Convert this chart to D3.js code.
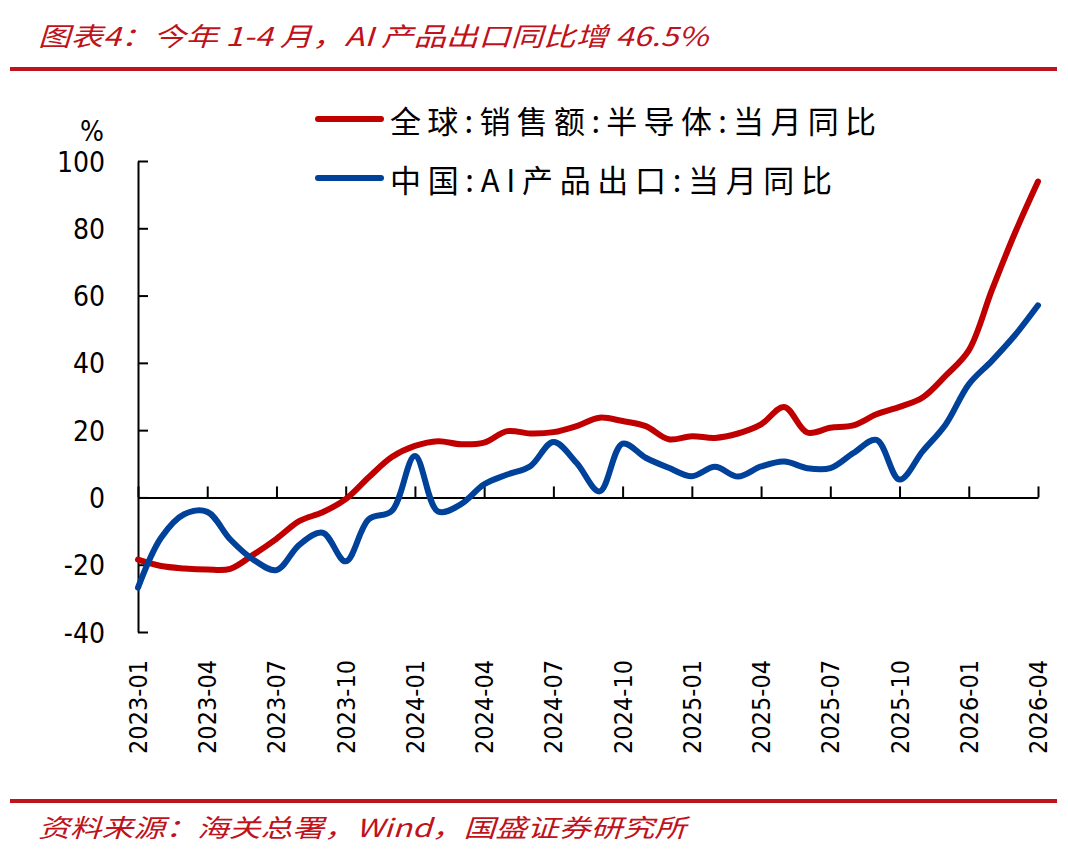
<!DOCTYPE html>
<html>
<head>
<meta charset="utf-8">
<script src="https://cdn.jsdelivr.net/npm/d3@7/dist/d3.min.js"></script>
<style>
  body { margin: 0; background: #fff; }
  svg { display: block; }
  .num { font-family: "DejaVu Sans Condensed", "DejaVu Sans", sans-serif; font-stretch: condensed; fill: #000; }
</style>
</head>
<body>
<div id="viz"></div>
<script>
// data
var months = ['2023-01','2023-02','2023-03','2023-04','2023-05','2023-06','2023-07','2023-08','2023-09','2023-10','2023-11','2023-12',
              '2024-01','2024-02','2024-03','2024-04','2024-05','2024-06','2024-07','2024-08','2024-09','2024-10','2024-11','2024-12',
              '2025-01','2025-02','2025-03','2025-04','2025-05','2025-06','2025-07','2025-08','2025-09','2025-10','2025-11','2025-12',
              '2026-01','2026-02','2026-03','2026-04'];
var semi = [-18.5, -20.4, -21.1, -21.4, -21.2, -17, -12.3, -7, -4.4, -0.5, 6, 12,
            15.3, 16.7, 15.8, 16.3, 19.7, 19, 19.4, 21.2, 23.7, 22.7, 21.2, 17.3,
            18.2, 17.7, 19, 21.7, 26.9, 19.3, 20.7, 21.4, 24.7, 26.9, 29.7, 36.2,
            43.7, 61.6, 78.6, 93.9];
var ai = [-26.8, -12, -5, -4.3, -12.5, -18.5, -21.6, -14, -10.5, -19, -6.5, -4,
          12.3, -4.2, -2, 3.9, 6.8, 9.3, 16.5, 10.3, 1.8, 16, 11.8, 8.8,
          6.3, 9.1, 6.2, 9.2, 10.7, 8.7, 8.7, 13.2, 17.1, 5.3, 13.7, 21.7,
          33.6, 40.6, 48.2, 57.1];
var yTicks = [-40, -20, 0, 20, 40, 60, 80, 100];
var xTickMonths = ['2023-01','2023-04','2023-07','2023-10','2024-01','2024-04','2024-07','2024-10',
                   '2025-01','2025-04','2025-07','2025-10','2026-01','2026-04'];
var seriesNames = ['全球:销售额:半导体:当月同比', '中国:AI产品出口:当月同比'];
var seriesColors = ['#C00000', '#00419A'];
var titleText = '图表4：今年 1-4 月，AI 产品出口同比增 46.5%';
var sourceText = '资料来源：海关总署，Wind，国盛证券研究所';

var W = 1068, H = 864;
var svg = d3.select('#viz').append('svg')
    .attr('width', W)
    .attr('height', H);

var x = d3.scalePoint().domain(months).range([138, 1038]);
var y = d3.scaleLinear().domain([-40, 100]).range([632, 161]);

// title and source
svg.append('text')
    .attr('x', 38).attr('y', 34)
    .attr('dominant-baseline', 'central')
    .attr('textLength', 670).attr('lengthAdjust', 'spacingAndGlyphs')
    .style('font-family', '"Noto Sans CJK SC", sans-serif')
    .style('font-style', 'italic')
    .style('font-size', '26px')
    .attr('fill', '#C0121B')
    .text(titleText);
svg.append('rect').attr('x', 10).attr('y', 67).attr('width', 1047).attr('height', 4).attr('fill', '#C0141C');
svg.append('rect').attr('x', 10).attr('y', 799).attr('width', 1047).attr('height', 4).attr('fill', '#C0141C');
svg.append('text')
    .attr('x', 38).attr('y', 826)
    .attr('dominant-baseline', 'central')
    .attr('textLength', 648).attr('lengthAdjust', 'spacingAndGlyphs')
    .style('font-family', '"Noto Sans CJK SC", sans-serif')
    .style('font-style', 'italic')
    .style('font-size', '25px')
    .attr('fill', '#C0121B')
    .text(sourceText);

// y axis, ticks pointing inwards
var yAxis = svg.append('g')
    .attr('transform', 'translate(' + x(months[0]) + ',0)')
    .call(d3.axisLeft(y).tickValues(yTicks).tickSizeInner(-10).tickSizeOuter(0).tickPadding(33)
        .tickFormat(function(d) { return String(d); }));
yAxis.selectAll('line').attr('stroke', '#000').attr('stroke-width', 2);
yAxis.select('.domain').attr('stroke', '#000').attr('stroke-width', 2);
yAxis.selectAll('text')
    .attr('class', 'num')
    .style('font-size', '28px')
    .attr('dy', '0.36em');

svg.append('text')
    .attr('class', 'num')
    .attr('x', 104).attr('y', 141)
    .attr('text-anchor', 'end')
    .style('font-size', '28px')
    .text('%');

// x axis on the zero line, ticks pointing up
var xAxis = svg.append('g')
    .attr('transform', 'translate(0,' + y(0) + ')')
    .call(d3.axisBottom(x).tickValues(xTickMonths).tickSizeInner(-11).tickSizeOuter(0).tickFormat(''));
xAxis.selectAll('line').attr('stroke', '#000').attr('stroke-width', 2);
xAxis.select('.domain').attr('stroke', '#000').attr('stroke-width', 2);

svg.append('g').selectAll('text')
    .data(xTickMonths)
    .enter().append('text')
    .attr('class', 'num')
    .attr('transform', function(d) { return 'translate(' + x(d) + ',660) rotate(-90)'; })
    .attr('text-anchor', 'end')
    .attr('dy', '0.36em')
    .style('font-size', '25px')
    .text(function(d) { return d; });

// lines
var valueline = d3.line()
    .x(function(d, i) { return x(months[i]); })
    .y(function(d) { return y(d); })
    .curve(d3.curveCatmullRom);

[semi, ai].forEach(function(s, k) {
    svg.append('path')
        .attr('d', valueline(s))
        .attr('fill', 'none')
        .attr('stroke', seriesColors[k])
        .attr('stroke-width', 6)
        .attr('stroke-linejoin', 'round')
        .attr('stroke-linecap', 'round');
});

// legend
var legY = [119, 178];
var legLen = [486, 442];
seriesNames.forEach(function(name, k) {
    svg.append('line')
        .attr('x1', 318).attr('x2', 381)
        .attr('y1', legY[k]).attr('y2', legY[k])
        .attr('stroke', seriesColors[k])
        .attr('stroke-width', 6)
        .attr('stroke-linecap', 'round');
    svg.append('text')
        .attr('x', 390).attr('y', legY[k])
        .attr('dominant-baseline', 'central')
        .attr('textLength', legLen[k]).attr('lengthAdjust', 'spacing')
        .style('font-family', '"Noto Sans CJK SC", sans-serif')
        .style('font-size', '31px')
        .attr('fill', '#000')
        .text(name);
});
</script>
</body>
</html>
